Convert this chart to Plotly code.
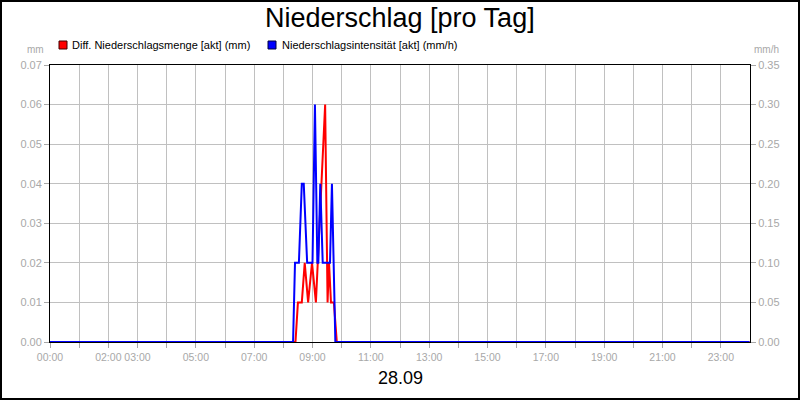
import plotly.graph_objects as go

DAY = "2024-09-28"
NEXT_DAY = "2024-09-29"

# Diff. Niederschlagsmenge [akt] (mm) - left axis
red_times = ["00:00", "08:25", "08:30", "08:38", "08:44", "08:51", "08:59", "09:07",
             "09:26", "09:31", "09:34", "09:38", "09:44", "09:50", "23:59"]
red_vals = [0, 0, 0.01, 0.01, 0.02, 0.01, 0.02, 0.01,
            0.06, 0.01, 0.02, 0.01, 0.01, 0, 0]

# Niederschlagsintensität [akt] (mm/h) - right axis
blue_times = ["00:00", "08:20", "08:24", "08:32", "08:38", "08:42", "08:49", "09:00",
              "09:05", "09:10", "09:12", "09:16", "09:21", "09:36", "09:40", "09:47", "23:59"]
blue_vals = [0, 0, 0.10, 0.10, 0.20, 0.20, 0.10, 0.10,
             0.30, 0.10, 0.10, 0.20, 0.10, 0.10, 0.20, 0, 0]

hours = list(range(24))
labeled_hours = [0, 2, 3, 5, 7, 9, 11, 13, 15, 17, 19, 21, 23]
tick_vals = [f"{DAY} {h:02d}:00" for h in hours]
tick_text = [f"{h:02d}:00" if h in labeled_hours else "" for h in hours]

title_text = "Niederschlag [pro Tag]"
date_label = "28.09"
red_name = "Diff. Niederschlagsmenge [akt] (mm)"
blue_name = "Niederschlagsintensität [akt] (mm/h)"

RED = "#ff0000"
BLUE = "#0000ff"
GRID = "#c0c0c0"
TICKC = "#a8a8a8"
FONT = "Liberation Sans, Arial, sans-serif"

# pixel geometry of the plot area
L, R, T, B = 50, 750, 65, 342
W, H = 800, 400


def px(x):
    return (x - L) / (R - L)


def py(y):
    return (B - y) / (B - T)


fig = go.Figure()
fig.add_trace(go.Scatter(
    x=[f"{DAY} {t}" for t in blue_times], y=blue_vals, yaxis="y2",
    mode="lines", line=dict(color=BLUE, width=2), name=blue_name, showlegend=False))
fig.add_trace(go.Scatter(
    x=[f"{DAY} {t}" for t in red_times], y=red_vals, yaxis="y",
    mode="lines", line=dict(color=RED, width=2), name=red_name, showlegend=False))

shapes = [
    # outer frame
    dict(type="rect", xref="paper", yref="paper",
         x0=px(1), x1=px(799), y0=py(399), y1=py(1),
         line=dict(color="black", width=2), fillcolor="rgba(0,0,0,0)", layer="above"),
    # legend squares
    dict(type="rect", xref="paper", yref="paper",
         x0=px(59), x1=px(67), y0=py(49), y1=py(41),
         line=dict(color="#400000", width=1), fillcolor=RED),
    dict(type="rect", xref="paper", yref="paper",
         x0=px(268), x1=px(276), y0=py(49), y1=py(41),
         line=dict(color="#000040", width=1), fillcolor=BLUE),
]

annotations = [
    dict(text=title_text, xref="paper", yref="paper", x=0.5, y=py(18),
         xanchor="center", yanchor="middle", showarrow=False,
         font=dict(size=27, color="black", family=FONT)),
    dict(text=red_name, xref="paper", yref="paper", x=px(70), y=py(45),
         xanchor="left", yanchor="middle", showarrow=False,
         font=dict(size=11, color="black", family=FONT)),
    dict(text=blue_name, xref="paper", yref="paper", x=px(280), y=py(45),
         xanchor="left", yanchor="middle", showarrow=False,
         font=dict(size=11, color="black", family=FONT)),
    dict(text="mm", xref="paper", yref="paper", x=px(46), y=py(49),
         xanchor="right", yanchor="middle", showarrow=False,
         font=dict(size=10, color=TICKC, family=FONT)),
    dict(text="mm/h", xref="paper", yref="paper", x=px(752), y=py(49),
         xanchor="left", yanchor="middle", showarrow=False,
         font=dict(size=10, color=TICKC, family=FONT)),
    dict(text=date_label, xref="paper", yref="paper", x=0.5, y=py(378),
         xanchor="center", yanchor="middle", showarrow=False,
         font=dict(size=18, color="black", family=FONT)),
]

fig.update_layout(
    width=W, height=H,
    margin=dict(l=L, r=W - R, t=T, b=H - B, pad=0),
    paper_bgcolor="white", plot_bgcolor="white",
    font=dict(family=FONT, size=11, color=TICKC),
    showlegend=False,
    shapes=shapes, annotations=annotations,
    xaxis=dict(
        type="date", range=[f"{DAY} 00:00", f"{NEXT_DAY} 00:00"],
        tickmode="array", tickvals=tick_vals, ticktext=tick_text, tickangle=0,
        ticks="outside", ticklen=5, tickcolor=TICKC, tickwidth=1,
        tickfont=dict(size=10.5, color=TICKC, family=FONT),
        showgrid=True, gridcolor=GRID, gridwidth=1,
        showline=True, linecolor="black", linewidth=1, mirror=True,
        zeroline=False, fixedrange=True,
    ),
    yaxis=dict(
        range=[0, 0.07], tickmode="linear", tick0=0, dtick=0.01, tickformat=".2f",
        ticks="outside", ticklen=5, tickcolor=TICKC, tickwidth=1,
        tickfont=dict(size=11, color=TICKC, family=FONT),
        showgrid=True, gridcolor=GRID, gridwidth=1,
        showline=True, linecolor="black", linewidth=1, mirror=True,
        zeroline=False, fixedrange=True,
    ),
    yaxis2=dict(
        range=[0, 0.35], tickmode="linear", tick0=0, dtick=0.05, tickformat=".2f",
        overlaying="y", side="right",
        ticks="outside", ticklen=5, tickcolor=TICKC, tickwidth=1,
        tickfont=dict(size=11, color=TICKC, family=FONT),
        showgrid=False, showline=True, linecolor="black", linewidth=1,
        zeroline=False, fixedrange=True,
    ),
)

fig.write_html("out.html", include_plotlyjs=True, full_html=True,
               config=dict(displayModeBar=False),
               post_script="document.body.style.margin='0';")
